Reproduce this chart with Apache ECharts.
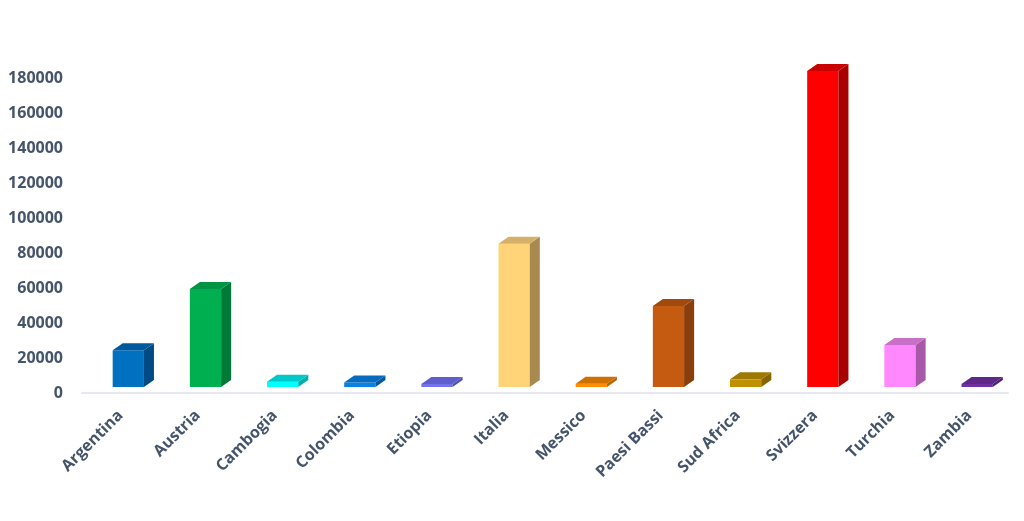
<!DOCTYPE html>
<html>
<head>
<meta charset="utf-8">
<script src="https://cdn.jsdelivr.net/npm/echarts@6/dist/echarts.min.js"></script>
<style>
html,body{margin:0;padding:0;background:#fff;}
#main{width:1024px;height:521px;}
</style>
</head>
<body>
<div id="main"></div>
<script>
const categories = ["Argentina","Austria","Cambogia","Colombia","Etiopia","Italia","Messico","Paesi Bassi","Sud Africa","Svizzera","Turchia","Zambia"];
const values = [24500, 59500, 6500, 6000, 5200, 85300, 5300, 49700, 7800, 184000, 27400, 5200];
const frontColors = ["#0070C0","#00B050","#00FFFF","#0A80E0","#7373EE","#FFD478","#FF8C00","#C55A11","#BF9000","#FF0000","#FF88FF","#7030A0"];
const sideColors  = ["#004B86","#007A36","#00B0B0","#0058A0","#5050B0","#A88A50","#B86400","#8A3E0C","#866500","#A80000","#A858A8","#4E1E72"];
const topColors   = ["#005A9E","#009444","#00C8C8","#066CC0","#5E5ECC","#D4B068","#CC7000","#A04A0E","#9E7800","#C80000","#C870C8","#5E2888"];
const yTicks = {min: 0, max: 180000, interval: 20000};

const chart = echarts.init(document.getElementById('main'));
const textColor = '#44546A';
chart.setOption({
  animation: false,
  grid: {left: 82, right: 16, top: 78, bottom: 128, containLabel: false},
  xAxis: {
    type: 'category',
    data: categories,
    axisLine: {show: true, lineStyle: {color: '#E8E8F0', width: 2}},
    axisTick: {show: false},
    axisLabel: {rotate: 45, margin: 20, color: textColor, fontWeight: 'bold', fontSize: 16, fontFamily: 'Open Sans'}
  },
  yAxis: {
    type: 'value',
    min: yTicks.min, max: yTicks.max, interval: yTicks.interval,
    axisLine: {show: false},
    axisTick: {show: false},
    splitLine: {show: false},
    axisLabel: {margin: 19, color: textColor, fontWeight: 'bold', fontSize: 16, fontFamily: 'Open Sans',
      formatter: function (v) { return String(v); }}
  },
  series: [{
    type: 'custom',
    clip: false,
    data: values.map((v, i) => [i, v]),
    renderItem: function (params, api) {
      const i = api.value(0), v = api.value(1);
      const base = api.coord([i, 0]);
      const tp = api.coord([i, v]);
      const band = api.size([1, 0])[0];
      const w = band * 0.405;
      const dx = band * 0.13, dy = 7;
      const cx = base[0] + band * 0.1;
      const x0 = cx - w / 2, x1 = cx + w / 2;
      const yb = base[1] - 6;
      const yt = Math.min(tp[1], yb - 1);
      const idx = params.dataIndex;
      return {
        type: 'group',
        children: [
          {type: 'rect', shape: {x: x0, y: yt, width: w, height: yb - yt}, style: {fill: frontColors[idx]}},
          {type: 'polygon', shape: {points: [[x1, yb], [x1 + dx, yb - dy], [x1 + dx, yt - dy], [x1, yt]]}, style: {fill: sideColors[idx]}},
          {type: 'polygon', shape: {points: [[x0, yt], [x0 + dx, yt - dy], [x1 + dx, yt - dy], [x1, yt]]}, style: {fill: topColors[idx]}}
        ]
      };
    }
  }]
});
</script>
</body>
</html>
